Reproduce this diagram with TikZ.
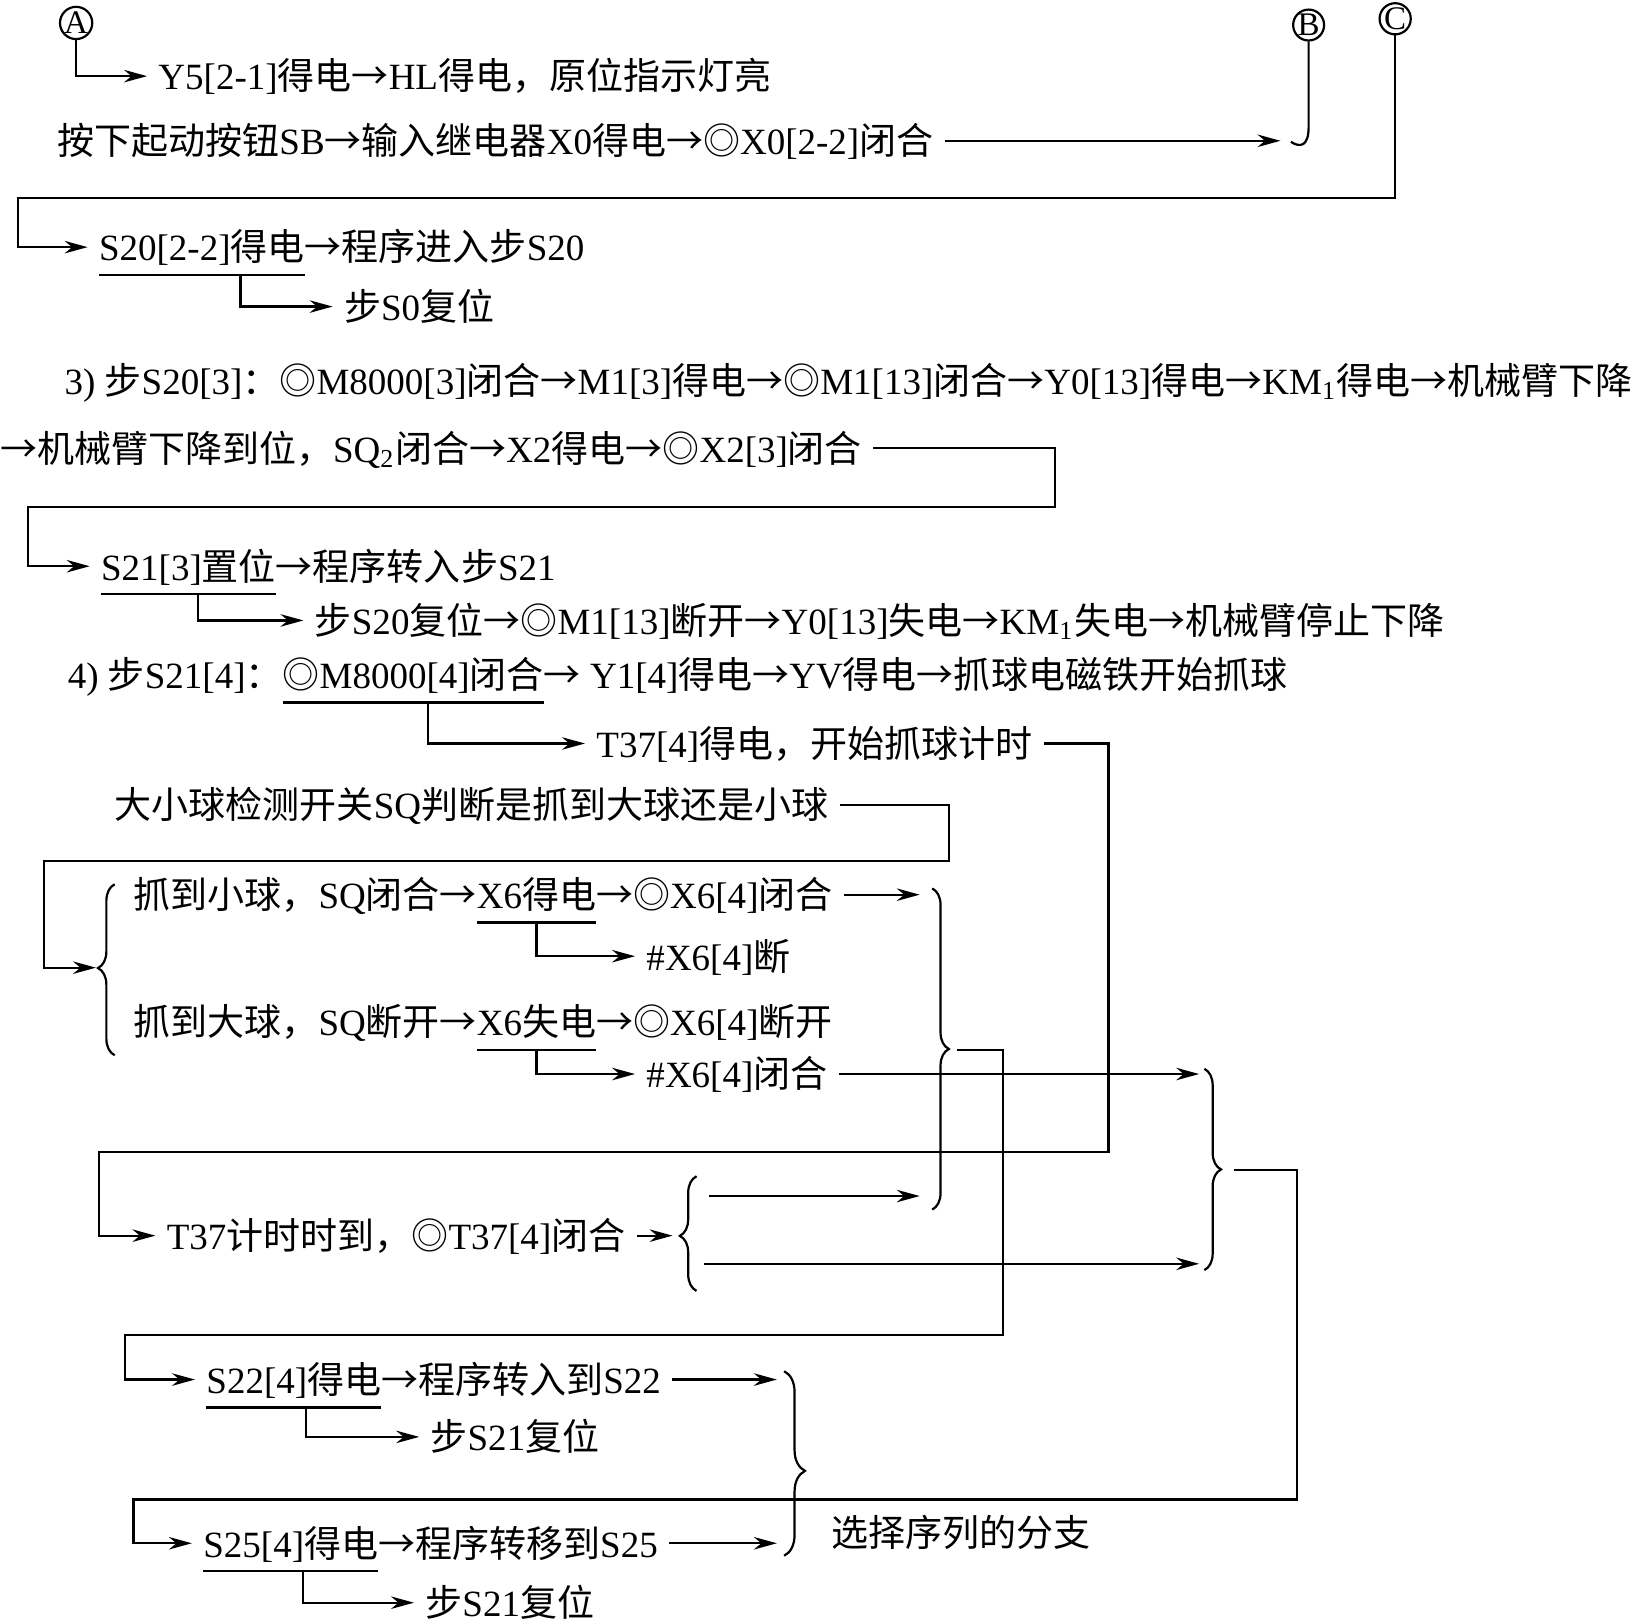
\documentclass[tikz,border=0pt]{standalone}
\usepackage{fontspec}
\setmainfont{Liberation Serif}
\newfontfamily\cjk{Noto Sans CJK SC}
\usepackage{tikz}
\usetikzlibrary{arrows.meta, positioning, decorations.pathreplacing}

% Chinese characters are set in the CJK font
\XeTeXinterchartokenstate=1
\newXeTeXintercharclass\cjkcls
\newcount\cjkc
\cjkc="4E00
\loop
  \XeTeXcharclass\cjkc=\cjkcls
  \advance\cjkc by 1
\ifnum\cjkc<"A000 \repeat
\XeTeXcharclass"FF0C=\cjkcls
\XeTeXcharclass"FF1A=\cjkcls
\XeTeXcharclass"25CE=\cjkcls
\XeTeXcharclass"2192=\cjkcls
\XeTeXinterchartoks 0 \cjkcls = {\cjk}
\XeTeXinterchartoks 4095 \cjkcls = {\cjk}
\XeTeXinterchartoks \cjkcls 0 = {\rmfamily}
\XeTeXinterchartoks \cjkcls 4095 = {\rmfamily}

\newcommand\diafont{\fontsize{10.1pt}{12pt}\selectfont}

\begin{document}
\begin{tikzpicture}[x=0.1mm, y=-0.1mm, line width=0.6pt,
    txt/.style={anchor=west, inner sep=0pt, outer xsep=1.1mm, outer ysep=0.9mm,
        text height=3.1mm, text depth=0.45mm, font=\diafont},
    circtag/.style={draw, circle, inner sep=0pt, minimum size=2.8mm,
        font=\fontsize{9pt}{9pt}\selectfont},
    arr/.style={-{Stealth[length=2.2mm, width=1.2mm]}},
    uline/.style={shorten <=1.1mm, shorten >=1.1mm},
    brc/.style={decorate, decoration={brace, amplitude=1.6mm, aspect=#1}}]
    \useasboundingbox (0,0) rectangle (1568,1556);

    \node[circtag] (nA) at (73,22) {A};
    \node[circtag] (nB) at (1255,24) {B};
    \node[circtag] (nC) at (1338,18) {C};

    % step S0 -> S20
    \node[txt] (t1) at (141,73) {Y5[2-1]得电→HL得电，原位指示灯亮};
    \node[txt] (t2) at (44,135) {按下起动按钮SB→输入继电器X0得电→◎X0[2-2]闭合};
    \node[txt] (s20) at (84,237) {S20[2-2]得电};
    \node[txt, right=-2.2mm of s20] (s20r) {→程序进入步S20};
    \node[txt] (s0) at (319,294) {步S0复位};

    % step S20
    \node[txt] (r3) at (51,365) {3) 步S20[3]：◎M8000[3]闭合→M1[3]得电→◎M1[13]闭合→Y0[13]得电→KM\textsubscript{1}得电→机械臂下降};
    \node[txt] (r3b) at (-11,430) {→机械臂下降到位，SQ\textsubscript{2}闭合→X2得电→◎X2[3]闭合};
    \node[txt] (s21) at (86,543) {S21[3]置位};
    \node[txt, right=-2.2mm of s21] (s21r) {→程序转入步S21};
    \node[txt] (s20off) at (291,595) {步S20复位→◎M1[13]断开→Y0[13]失电→KM\textsubscript{1}失电→机械臂停止下降};

    % step S21
    \node[txt] (r4) at (54,647) {4) 步S21[4]：};
    \node[txt, right=-2.2mm of r4] (r4m) {◎M8000[4]闭合};
    \node[txt, right=-2.2mm of r4m] (r4r) {→ Y1[4]得电→YV得电→抓球电磁铁开始抓球};
    \node[txt] (t37) at (561,713) {T37[4]得电，开始抓球计时};
    \node[txt] (sq) at (99,772) {大小球检测开关SQ判断是抓到大球还是小球};

    \node[txt] (sm) at (117,858) {抓到小球，SQ闭合→};
    \node[txt, right=-2.2mm of sm] (smx) {X6得电};
    \node[txt, right=-2.2mm of smx] (smr) {→◎X6[4]闭合};
    \node[txt] (x6off) at (609,917) {\#X6[4]断};
    \node[txt] (bg) at (117,980) {抓到大球，SQ断开→};
    \node[txt, right=-2.2mm of bg] (bgx) {X6失电};
    \node[txt, right=-2.2mm of bgx] (bgr) {→◎X6[4]断开};
    \node[txt] (x6on) at (609,1030) {\#X6[4]闭合};
    \node[txt] (t37d) at (149,1185) {T37计时时到，◎T37[4]闭合};

    \node[txt] (s22) at (187,1323) {S22[4]得电};
    \node[txt, right=-2.2mm of s22] (s22r) {→程序转入到S22};
    \node[txt] (s21off1) at (402,1378) {步S21复位};
    \node[txt] (s25) at (184,1480) {S25[4]得电};
    \node[txt, right=-2.2mm of s25] (s25r) {→程序转移到S25};
    \node[txt] (s21off2) at (397,1537) {步S21复位};
    \node[txt] (sel) at (786,1470) {选择序列的分支};

    % brace tips and arrow ends
    \coordinate (hB) at (1238,136);
    \coordinate (hBin) at (1228,135);
    \coordinate (lb1) at (92,928);
    \coordinate (rb1) at (918,1007);
    \coordinate (rb2) at (1183,1122);
    \coordinate (lb2) at (645,1185);
    \coordinate (lb2t) at (680,1147);
    \coordinate (lb2b) at (675,1212);
    \coordinate (in1) at (882,858);
    \coordinate (in2) at (1150,1030);
    \coordinate (in3) at (882,1147);
    \coordinate (in4) at (1150,1212);
    \coordinate (in5) at (745,1323);
    \coordinate (in6) at (745,1480);

    \draw[brc=0.51] (110,1012) -- (110,848);
    \draw[brc=0.5] (894,852) -- (894,1160);
    \draw[brc=0.5] (1155,1025) -- (1155,1218);
    \draw[brc=0.48] (668,1238) -- (668,1128);
    \draw[brc=0.54, decoration={amplitude=2mm}] (752,1315) -- (752,1492);

    \draw[arr] (nA) |- (t1);
    \draw (nB) -- (1255,122) .. controls (1255,140) and (1247,142) .. (hB);
    \draw[arr] (t2) -- (hBin);
    \draw[arr] (nC) |- (17,190) |- (s20);
    \draw[uline] (s20.south west) -- (s20.south east);
    \draw[arr] ([xshift=3.7mm]s20.south) |- (s0);

    \draw[arr] (r3b) -- (1012,430) |- (27,486) |- (s21);
    \draw[uline] (s21.south west) -- (s21.south east);
    \draw[arr] ([xshift=0.9mm]s21.south) |- (s20off);

    \draw[uline] (r4m.south west) -- (r4m.south east);
    \draw[arr] ([xshift=1.4mm]r4m.south) |- (t37);
    \draw[arr] (t37) -- (1063,713) |- (95,1105) |- (t37d);
    \draw[arr] (sq) -- (910,772) |- (42,826) |- (lb1);
    \draw[uline] (smx.south west) -- (smx.south east);
    \draw[arr] (smx.south) |- (x6off);
    \draw[arr] (smr) -- (in1);
    \draw[uline] (bgx.south west) -- (bgx.south east);
    \draw[arr] (bgx.south) |- (x6on);
    \draw[arr] (x6on) -- (in2);
    \draw[arr] (t37d) -- (lb2);
    \draw[arr] (lb2t) -- (in3);
    \draw[arr] (lb2b) -- (in4);

    \draw[arr] (rb1) -- (962,1007) |- (120,1280) |- (s22);
    \draw[arr] (rb2) -- (1244,1122) |- (128,1438) |- (s25);
    \draw[uline] (s22.south west) -- (s22.south east);
    \draw[arr] ([xshift=1.2mm]s22.south) |- (s21off1);
    \draw[arr] (s22r) -- (in5);
    \draw[uline] (s25.south west) -- (s25.south east);
    \draw[arr] ([xshift=1.2mm]s25.south) |- (s21off2);
    \draw[arr] (s25r) -- (in6);
\end{tikzpicture}
\end{document}
